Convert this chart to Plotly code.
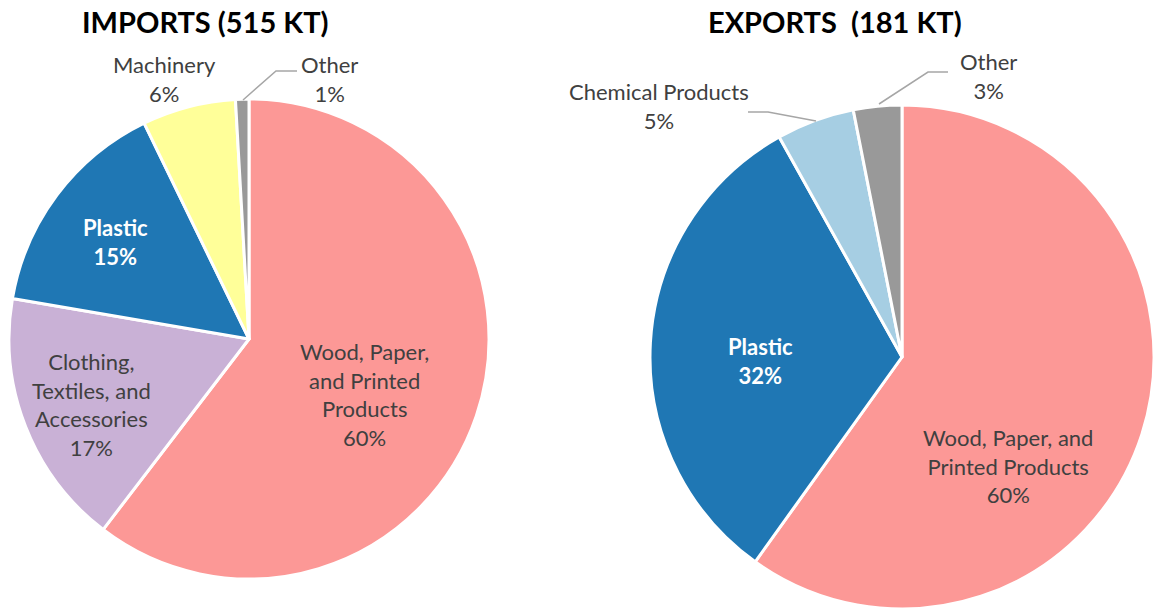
import plotly.graph_objects as go

W, H = 1154, 611

# imports, share of 515 kt (%)
imp_labels = ["Wood, Paper,<br>and Printed<br>Products", "Clothing,<br>Textiles, and<br>Accessories",
              "Plastic", "Machinery", "Other"]
imp_values = [60.4, 17.3, 15.1, 6.3, 0.9]
imp_pct = ["60%", "17%", "15%", "6%", "1%"]
imp_colors = ["#FC9896", "#C9B1D6", "#1F77B4", "#FFFF99", "#999999"]

# exports, share of 181 kt (%)
exp_labels = ["Wood, Paper, and<br>Printed Products", "Plastic", "Chemical Products", "Other"]
exp_values = [59.9, 32.0, 5.0, 3.1]
exp_pct = ["60%", "32%", "5%", "3%"]
exp_colors = ["#FC9896", "#1F77B4", "#A6CEE3", "#999999"]

FONT = "Lato, 'Open Sans', sans-serif"
GREY_TXT = "#404040"


def px(x, y):
    # pixel position -> paper coords
    return x / W, 1 - y / H


fig = go.Figure()

fig.add_trace(go.Pie(
    labels=imp_labels, values=imp_values, textinfo="none",
    marker=dict(colors=imp_colors, line=dict(color="white", width=3)),
    sort=False, direction="clockwise", rotation=0,
    domain=dict(x=[9 / W, 489 / W], y=[1 - 579 / H, 1 - 99 / H]),
    hoverinfo="label+percent",
))

fig.add_trace(go.Pie(
    labels=exp_labels, values=exp_values, textinfo="none",
    marker=dict(colors=exp_colors, line=dict(color="white", width=3)),
    sort=False, direction="clockwise", rotation=0,
    domain=dict(x=[650 / W, 1.0], y=[1 - 610 / H, 1 - 104 / H]),
    hoverinfo="label+percent",
))

annotations = []
# titles
for t, (x, y) in [("IMPORTS (515 KT)", (205, 22)), ("EXPORTS\u00a0 (181 KT)", (835, 22))]:
    ax_, ay_ = px(x, y)
    annotations.append(dict(text=f"<b>{t}</b>", x=ax_, y=ay_, xref="paper", yref="paper",
                            xanchor="center", yanchor="middle", showarrow=False,
                            font=dict(family=FONT, size=29, color="black")))

# slice labels: (label, pct, anchor px)
slice_labels = [
    (imp_labels[0], imp_pct[0], (364, 394)),
    (imp_labels[1], imp_pct[1], (92, 404)),
    (imp_labels[2], imp_pct[2], (115, 242)),
    (imp_labels[3], imp_pct[3], (165, 79)),
    (imp_labels[4], imp_pct[4], (329, 79)),
    (exp_labels[0], exp_pct[0], (1008, 466)),
    (exp_labels[1], exp_pct[1], (760, 361)),
    (exp_labels[2], exp_pct[2], (659, 106)),
    (exp_labels[3], exp_pct[3], (988, 76)),
]
for lab, p, (x, y) in slice_labels:
    ax_, ay_ = px(x, y)
    txt = f"{lab}<br>{p}"
    col = GREY_TXT
    if lab == "Plastic":
        txt = f"<b>{txt}</b>"
        col = "white"
    annotations.append(dict(text=txt, x=ax_, y=ay_, xref="paper", yref="paper",
                            xanchor="center", yanchor="middle", showarrow=False,
                            font=dict(family=FONT, size=22, color=col)))

# leader lines
leaders = [
    [(243, 100), (276, 71), (297, 71)],
    [(816, 121), (768, 112), (748, 112)],
    [(879, 104), (928, 72), (948, 72)],
]
shapes = []
for pts in leaders:
    path = "M " + " L ".join(f"{px(x, y)[0]},{px(x, y)[1]}" for x, y in pts)
    shapes.append(dict(type="path", path=path, xref="paper", yref="paper",
                       line=dict(color="#A6A6A6", width=1.5)))

fig.update_layout(
    width=W, height=H,
    margin=dict(l=0, r=0, t=0, b=0),
    paper_bgcolor="white", plot_bgcolor="white",
    showlegend=False,
    annotations=annotations, shapes=shapes,
    font=dict(family=FONT),
)

fig.write_html("out.html", config={"displayModeBar": False},
               post_script="document.body.style.margin='0px';")
